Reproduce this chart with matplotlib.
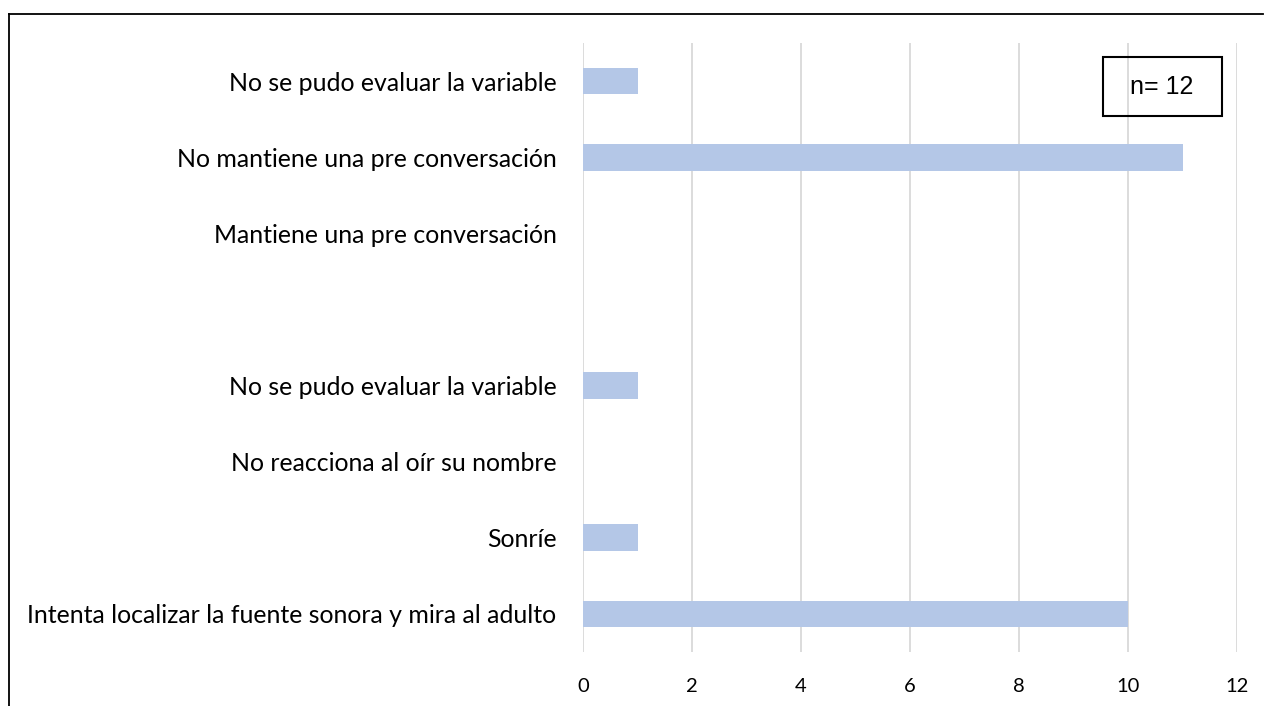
import matplotlib
matplotlib.use("Agg")
import matplotlib.pyplot as plt
from matplotlib.lines import Line2D
from matplotlib.patches import Rectangle

categories = [
    "Intenta localizar la fuente sonora y mira al adulto",
    "Sonríe",
    "No reacciona al oír su nombre",
    "No se pudo evaluar la variable",
    "",
    "Mantiene una pre conversación",
    "No mantiene una pre conversación",
    "No se pudo evaluar la variable",
]
values = [10, 1, 0, 1, 0, 0, 11, 1]
xticks = [0, 2, 4, 6, 8, 10, 12]
note = "n= 12"

fig = plt.figure(figsize=(12.66, 7.06), dpi=100)
ax = fig.add_axes([583/1266, 54/706, 654/1266, 609/706])
pos = list(range(len(categories)))
ax.barh(pos, values, height=0.35, color="#B4C7E7", zorder=3)
ax.set_ylim(-0.5, len(categories) - 0.5)
ax.set_xlim(0, 12)
ax.set_xticks(xticks)
ax.set_xticklabels([str(t) for t in xticks], fontfamily="Lato", fontsize=14.5)
ax.set_yticks(pos)
ax.set_yticklabels(categories, fontfamily="Lato", fontsize=17.9)
ax.tick_params(axis="both", length=0, colors="black")
ax.tick_params(axis="x", pad=19)
ax.tick_params(axis="y", pad=19)
for s in ax.spines.values():
    s.set_visible(False)
ax.grid(axis="x", color="#D9D9D9", linewidth=1.3, zorder=0)

# note box
fig.patches.append(Rectangle((1103/1266, 1 - 116/706), 119/1266, 59/706,
                             transform=fig.transFigure, fill=False,
                             edgecolor="black", linewidth=1.5))
fig.text(1162/1266, 1 - 87/706, note, ha="center", va="center",
         fontfamily="Liberation Sans", fontsize=18)

# outer frame (top and left)
fig.add_artist(Line2D([9/1266, 1263/1266], [1 - 14/706, 1 - 14/706],
                      transform=fig.transFigure, color="black", linewidth=1.3))
fig.add_artist(Line2D([9/1266, 9/1266], [1 - 14/706, 0],
                      transform=fig.transFigure, color="black", linewidth=1.3))

fig.savefig("out.png", dpi=100)
